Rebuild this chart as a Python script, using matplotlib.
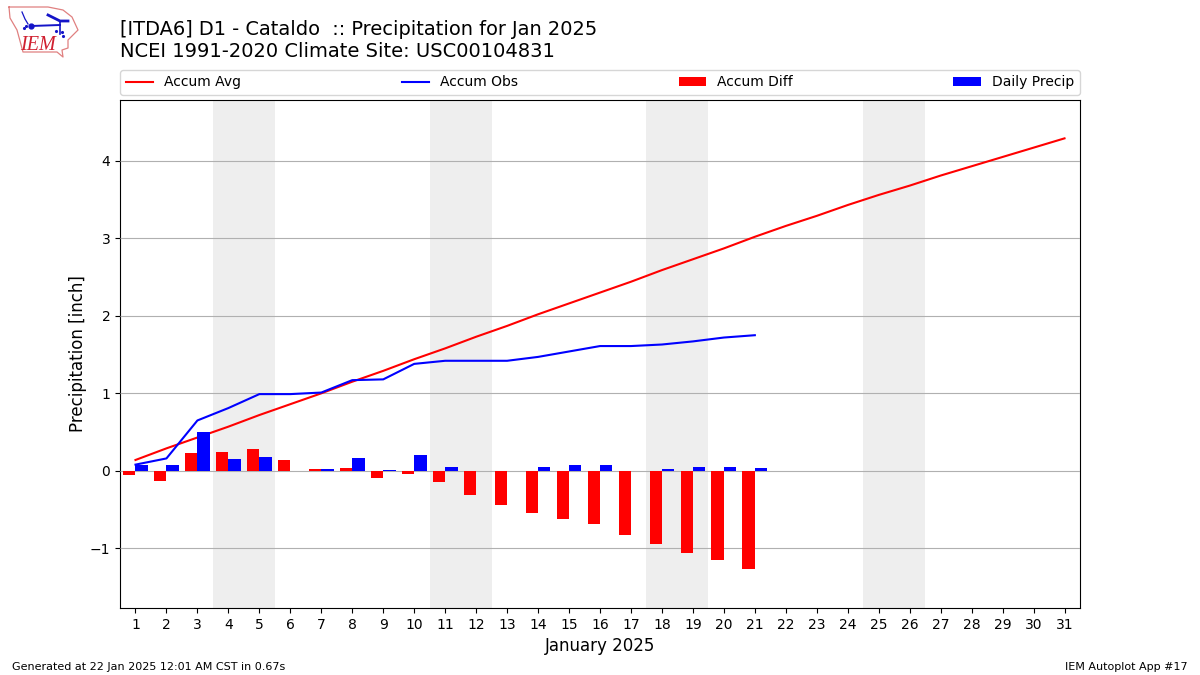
import numpy as np
import matplotlib
matplotlib.use("Agg")
import matplotlib.pyplot as plt

days = list(range(1, 32))
accum_avg = [0.14, 0.29, 0.43, 0.57, 0.72, 0.86, 1.00, 1.15, 1.29, 1.44, 1.58, 1.73, 1.87, 2.02, 2.16, 2.30,
             2.44, 2.59, 2.73, 2.87, 3.02, 3.16, 3.29, 3.43, 3.56, 3.68, 3.81, 3.93, 4.05, 4.17, 4.29]
accum_obs = [0.08, 0.16, 0.65, 0.81, 0.99, 0.99, 1.01, 1.17, 1.18, 1.38, 1.42, 1.42, 1.42, 1.47, 1.54, 1.61,
             1.61, 1.63, 1.67, 1.72, 1.75]
accum_diff = [-0.06, -0.13, 0.23, 0.24, 0.28, 0.14, 0.025, 0.04, -0.09, -0.04, -0.15, -0.31, -0.44, -0.54, -0.62,
              -0.69, -0.83, -0.95, -1.06, -1.15, -1.27]
daily_precip = [0.08, 0.08, 0.50, 0.15, 0.18, 0.00, 0.025, 0.16, 0.01, 0.20, 0.05, 0.00, 0.00, 0.05, 0.08, 0.08,
                0.00, 0.02, 0.05, 0.05, 0.04]
weekends = [(3.5, 5.5), (10.5, 12.5), (17.5, 19.5), (24.5, 26.5)]

fig = plt.figure(figsize=(12, 6.75), dpi=100)
ax = fig.add_axes([120 / 1200, 1 - 608 / 675, 960 / 1200, 508 / 675])

for lo, hi in weekends:
    ax.axvspan(lo, hi, color="#eeeeee", zorder=1, lw=0)

obs_days = np.array(days[:len(accum_obs)])
ax.plot(days, accum_avg, color="r", label="Accum Avg", zorder=3, lw=1.5)
ax.plot(obs_days, accum_obs, color="b", label="Accum Obs", zorder=3, lw=1.5)
ax.bar(obs_days - 0.2, accum_diff, width=0.4, color="r", label="Accum Diff", zorder=3)
ax.bar(obs_days + 0.2, daily_precip, width=0.4, color="b", label="Daily Precip", zorder=3)

ax.set_xlim(0.5, 31.5)
ax.set_ylim(-1.77, 4.785)
ax.set_xticks(days)
ax.set_yticks([-1, 0, 1, 2, 3, 4])
ax.grid(axis="y", color="#b0b0b0", zorder=2)
ax.set_axisbelow(False)
ax.tick_params(axis="both", labelsize=10)
ax.set_xlabel("January 2025", fontsize=12)
ax.set_ylabel("Precipitation [inch]", fontsize=12, labelpad=2)
ax.legend(loc="lower left", ncol=4, mode="expand", borderaxespad=0, fontsize=10,
          bbox_to_anchor=(120 / 1200, 1 - 95 / 675, 960 / 1200, 0.03), bbox_transform=fig.transFigure)

fig.text(120 / 1200, 1 - 35 / 675, "[ITDA6] D1 - Cataldo  :: Precipitation for Jan 2025", fontsize=13.97)
fig.text(120 / 1200, 1 - 57 / 675, "NCEI 1991-2020 Climate Site: USC00104831", fontsize=14)
fig.text(12 / 1200, 1 - 670 / 675, "Generated at 22 Jan 2025 12:01 AM CST in 0.67s", fontsize=8)
fig.text(1188 / 1200, 1 - 670 / 675, "IEM Autoplot App #17", fontsize=8, ha="right")

# logo, redrawn in pixel coords of the page
logo = fig.add_axes([0, 1 - 60 / 675, 90 / 1200, 60 / 675])
logo.set_xlim(0, 90)
logo.set_ylim(60, 0)
logo.axis("off")
outline_x = [9, 48, 63, 72, 78, 68, 68, 62, 63, 57, 23, 17, 10, 9]
outline_y = [7, 7, 10, 17, 30, 40, 48, 50, 57, 52, 52, 30, 18, 7]
logo.plot(outline_x, outline_y, color="#e08080", lw=0.9)
logo.plot([31, 60], [26, 25], color="#1414c8", lw=1.4)
logo.plot([60, 60], [21, 34], color="#1414c8", lw=1.2)
logo.plot([48, 56, 60, 68], [15, 19, 21, 21], color="#1414c8", lw=2)
logo.plot([22, 25, 28], [12, 19, 24], color="#1414c8", lw=0.9)
logo.plot([31], [26], "o", color="#1414c8", ms=3.5)
logo.plot([24, 26, 56, 62, 63], [28, 26, 31, 32, 36], ".", color="#1414c8", ms=2.5)
logo.text(37.5, 45.5, "IEM", color="#d02030", fontsize=14.5, family="Liberation Serif", style="italic",
          ha="center", va="center")

fig.savefig("out.png", dpi=100)
